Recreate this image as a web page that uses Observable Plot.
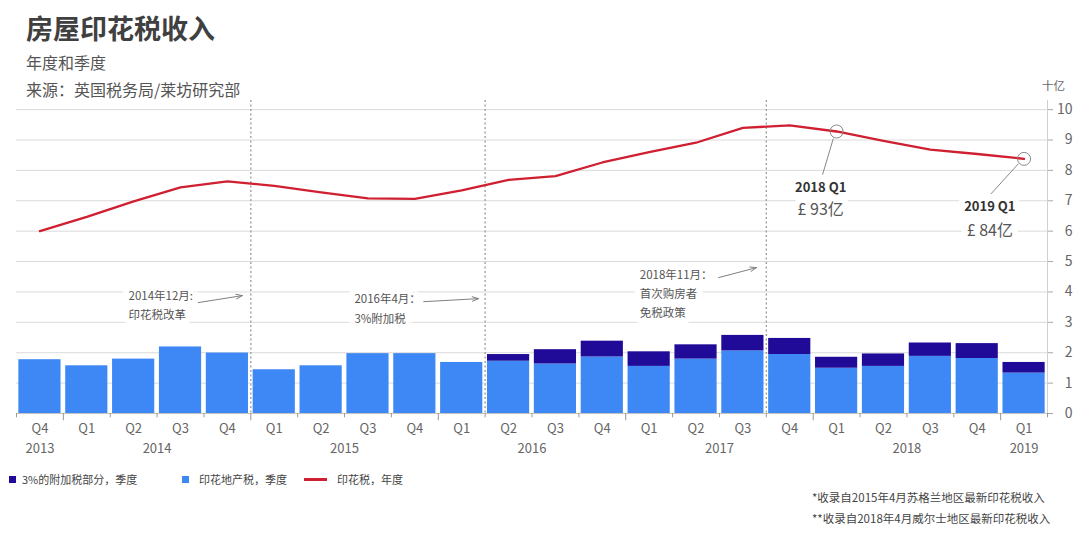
<!DOCTYPE html>
<html lang="zh">
<head>
<meta charset="utf-8">
<script src="https://cdn.jsdelivr.net/npm/d3@7"></script>
<script src="https://cdn.jsdelivr.net/npm/@observablehq/plot@0.6"></script>
<style>
html,body{margin:0;padding:0;background:#fff;}
#wrap{position:relative;width:1080px;height:539px;overflow:hidden;font-family:"Noto Sans CJK SC","Noto Sans",sans-serif;}
#chart{position:absolute;left:0;top:0;}
.t{position:absolute;white-space:nowrap;line-height:1;}
.sw{position:absolute;}
</style>
</head>
<body>
<div id="wrap">
  <div id="chart"></div>
  <div class="t" style="left:26px;top:14px;font-size:27px;font-weight:700;color:#404040;">房屋印花税收入</div>
  <div class="t" style="left:26px;top:54px;font-size:16px;color:#555;">年度和季度</div>
  <div class="t" style="left:26px;top:81px;font-size:16px;color:#555;">来源：英国税务局/莱坊研究部</div>
  <div class="t" style="left:1042px;top:80px;font-size:11.5px;color:#666;">十亿</div>

  <div class="sw" style="left:9px;top:476px;width:7px;height:7px;background:#1f0b97;"></div>
  <div class="t" style="left:22px;top:473.5px;font-size:11px;color:#444;">3%的附加税部分，季度</div>
  <div class="sw" style="left:182px;top:476px;width:7px;height:7px;background:#3d88f5;"></div>
  <div class="t" style="left:199px;top:473.5px;font-size:11px;color:#444;">印花地产税，季度</div>
  <div class="sw" style="left:304px;top:477.5px;width:23px;height:3px;background:#cf1f30;"></div>
  <div class="t" style="left:337px;top:473.5px;font-size:11px;color:#444;">印花税，年度</div>

  <div class="t" style="left:812px;top:492px;font-size:11.5px;color:#444;">*收录自2015年4月苏格兰地区最新印花税收入</div>
  <div class="t" style="left:812px;top:513px;font-size:11.5px;color:#444;">**收录自2018年4月威尔士地区最新印花税收入</div>
</div>
<script>
// ---- data ----
const quarters = ["2013 Q4","2014 Q1","2014 Q2","2014 Q3","2014 Q4","2015 Q1","2015 Q2","2015 Q3","2015 Q4","2016 Q1","2016 Q2","2016 Q3","2016 Q4","2017 Q1","2017 Q2","2017 Q3","2017 Q4","2018 Q1","2018 Q2","2018 Q3","2018 Q4","2019 Q1"];
// 印花地产税，季度 (十亿英镑)
const stampDutyQ = [1.77,1.57,1.79,2.19,1.99,1.44,1.57,1.97,1.97,1.68,1.72,1.63,1.86,1.55,1.79,2.06,1.94,1.49,1.55,1.88,1.81,1.33];
// 3%的附加税部分，季度
const surchargeQ = [0,0,0,0,0,0,0,0,0,0,0.22,0.47,0.52,0.48,0.47,0.51,0.53,0.36,0.41,0.44,0.49,0.35];
// 印花税，年度 (滚动)
const stampDutyAnnual = [6.00,6.47,6.98,7.44,7.64,7.49,7.28,7.08,7.06,7.34,7.69,7.81,8.26,8.60,8.91,9.40,9.48,9.28,8.97,8.68,8.54,8.38];
const yTicks = [0,1,2,3,4,5,6,7,8,9,10];
const policyQuarters = ["2015 Q1","2016 Q2","2017 Q4"];
const noteTexts = [
  {x:1.89, y:3.85, text:"2014年12月:"},
  {x:1.89, y:3.22, text:"印花税改革"},
  {x:6.71, y:3.75, text:"2016年4月："},
  {x:6.71, y:3.09, text:"3%附加税"},
  {x:12.8, y:4.54, text:"2018年11月："},
  {x:12.8, y:3.91, text:"首次购房者"},
  {x:12.8, y:3.29, text:"免税政策"}
];
const noteArrows = [
  {x1:3.38, y1:3.65, x2:4.32, y2:3.88},
  {x1:8.19, y1:3.68, x2:9.36, y2:3.78},
  {x1:14.48, y1:4.47, x2:15.29, y2:4.80}
];
const callouts = [
  {q:"2018 Q1", label:"2018 Q1", value:"£ 93亿", tx:16.66, ty1:7.44, ty2:6.71, lx1:16.93, ly1:9.05, lx2:16.70, ly2:7.86},
  {q:"2019 Q1", label:"2019 Q1", value:"£ 84亿", tx:20.27, ty1:6.81, ty2:6.02, lx1:20.88, ly1:8.22, lx2:20.29, ly2:7.22}
];

// ---- derived tables ----
const rows = quarters.map((q, i) => ({
  q, i, year: q.slice(0, 4), ql: q.slice(5),
  base: stampDutyQ[i], sur: surchargeQ[i], annual: stampDutyAnnual[i]
}));
const years = Array.from(new Set(rows.map(d => d.year)));
const yearLabels = years.map(y => ({year: y, pos: d3.mean(rows.filter(d => d.year === y), d => d.i)}));
const boundaries = d3.range(quarters.length + 1).map(k => ({x: k - 0.5, long: k > 0 && k < quarters.length && quarters[k].endsWith("Q1")}));
const calloutPts = callouts.map(c => ({...c, i: quarters.indexOf(c.q), v: stampDutyAnnual[quarters.indexOf(c.q)]}));

const BLUE = "#3d88f5", NAVY = "#1f0b97", RED = "#cf1f30";
const halo = {stroke: "white", strokeWidth: 12, paintOrder: "stroke", strokeLinejoin: "round"};

const chart = Plot.plot({
  width: 1080, height: 539,
  marginLeft: 16, marginRight: 33, marginTop: 100, marginBottom: 126,
  style: {fontFamily: '"Noto Sans CJK SC","Noto Sans",sans-serif', background: "transparent"},
  x: {type: "linear", domain: [-0.5, quarters.length - 0.5], axis: null},
  y: {domain: [0, 10.3], axis: null},
  marks: [
    Plot.ruleY(yTicks.filter(d => d > 0), {stroke: "#dadada", strokeWidth: 1}),
    Plot.ruleY([0], {stroke: "#c4c4c4"}),
    Plot.rect(rows, {x1: d => d.i - 0.45, x2: d => d.i + 0.45, y1: 0, y2: "base", fill: BLUE}),
    Plot.rect(rows.filter(d => d.sur > 0), {x1: d => d.i - 0.45, x2: d => d.i + 0.45, y1: "base", y2: d => d.base + d.sur, fill: NAVY}),
    Plot.ruleX(policyQuarters.map(q => quarters.indexOf(q) - 0.5), {stroke: "#9a9a9a", strokeDasharray: "2,2.5", strokeWidth: 1.3}),
    Plot.ruleX([quarters.length - 0.5], {stroke: "#cfcfcf"}),
    Plot.ruleX(boundaries, {x: "x", y1: 0, y2: d => d.long ? -0.24 : -0.14, stroke: "#999"}),
    Plot.axisY({anchor: "right", ticks: yTicks, tickSize: 5, tickPadding: 20, textAnchor: "end", fontSize: 14, fill: "#666", stroke: "#aaa", label: null}),
    Plot.text(rows, {x: "i", frameAnchor: "bottom", dy: 19, text: "ql", fontSize: 13, fill: "#666"}),
    Plot.text(yearLabels, {x: "pos", frameAnchor: "bottom", dy: 39, text: "year", fontSize: 13, fill: "#666"}),
    Plot.text(noteTexts, {x: "x", y: "y", text: "text", textAnchor: "start", fontSize: 11.5, fill: "#555", ...halo}),
    Plot.arrow(noteArrows, {x1: "x1", y1: "y1", x2: "x2", y2: "y2", stroke: "#808080", strokeWidth: 1, headLength: 10, headAngle: 40, bend: 0}),
    Plot.line(rows, {x: "i", y: "annual", stroke: RED, strokeWidth: 2.3}),
    Plot.text(calloutPts, {x: "tx", y: "ty1", text: "label", fontSize: 13, fontWeight: "bold", fill: "#333", ...halo}),
    Plot.text(calloutPts, {x: "tx", y: "ty2", text: "value", fontSize: 16, fill: "#555", ...halo}),
    Plot.link(calloutPts, {x1: "lx1", y1: "ly1", x2: "lx2", y2: "ly2", stroke: "#888", strokeWidth: 1}),
    Plot.dot(calloutPts, {x: "i", y: "v", r: 6.5, stroke: "#8a8a8a", fill: "none", strokeWidth: 1})
  ]
});
document.getElementById("chart").appendChild(chart);
</script>
</body>
</html>
